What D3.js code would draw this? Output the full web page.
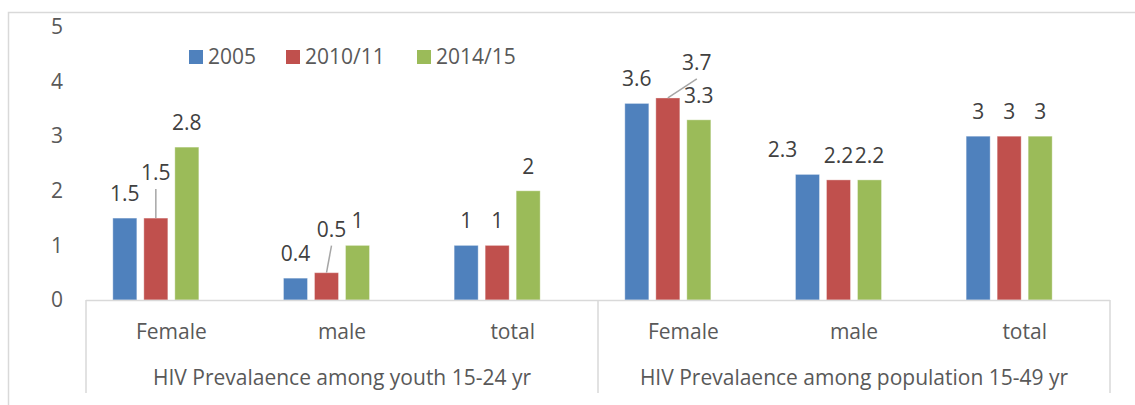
<!DOCTYPE html>
<html>
<head>
<meta charset="utf-8">
<script src="https://cdn.jsdelivr.net/npm/d3@7/dist/d3.min.js"></script>
<style>
  body { margin: 0; background: #fff; }
  text { font-family: "Open Sans", sans-serif; }
</style>
</head>
<body>
<div id="chart"></div>
<script>
// data
var groups = ["HIV Prevalaence among youth 15-24 yr", "HIV Prevalaence among population 15-49 yr"];
var subcats = ["Female", "male", "total"];
var seriesNames = ["2005", "2010/11", "2014/15"];
var v2005 = [1.5, 0.4, 1, 3.6, 2.3, 3];
var v2010 = [1.5, 0.5, 1, 3.7, 2.2, 3];
var v2014 = [2.8, 1, 2, 3.3, 2.2, 3];
var yTicks = [0, 1, 2, 3, 4, 5];

var colors = ["#4F81BD", "#C0504D", "#9BBB59"];
var width = 1135, height = 405;
var fs = 21;

// labels that excel moved by hand (cat index, series index, dx, dy, leader)
var moved = [
  {c: 0, s: 1, dx: 0, dy: -21, line: true},
  {c: 1, s: 1, dx: 5, dy: -19, line: true},
  {c: 3, s: 1, dx: 29, dy: -11, line: true},
  {c: 4, s: 0, dx: -25, dy: 0, line: false}
];

var cats = [];
groups.forEach(function(g, gi) {
  subcats.forEach(function(s) { cats.push({key: cats.length, name: s, group: gi}); });
});
var allSeries = [v2005, v2010, v2014];

var svg = d3.select('#chart').append('svg')
  .attr("width", width)
  .attr("height", height);

// outer chart border (cut at bottom/right like the picture)
svg.append("path")
  .attr("d", "M8.5," + height + "V12.5H" + width)
  .attr("fill", "none")
  .attr("stroke", "#d9d9d9")
  .attr("stroke-width", 1.5);

var x = d3.scaleBand()
  .domain(cats.map(function(d) { return d.key; }))
  .range([86, 1110]);
// 4 slots per category, the 4th one is empty in the source chart
var xs = d3.scaleBand()
  .domain([0, 1, 2, 3])
  .range([0, x.bandwidth()])
  .paddingInner(0.2258)
  .paddingOuter(0.865);
var y = d3.scaleLinear()
  .domain([0, 5])
  .range([300, 27]);

// y axis, labels only
var yAxis = svg.append("g")
  .attr("transform", "translate(86,0)")
  .call(d3.axisLeft(y).tickValues(yTicks).tickFormat(d3.format("d")).tickSize(0).tickPadding(23));
yAxis.select(".domain").remove();
yAxis.selectAll("text")
  .attr("font-size", fs)
  .attr("fill", "#595959")
  .attr("font-family", "Open Sans, sans-serif");

// bars
var bars = [];
allSeries.forEach(function(vals, si) {
  vals.forEach(function(v, ci) { bars.push({c: ci, s: si, v: v}); });
});

svg.selectAll('rect.bar')
  .data(bars)
  .enter()
  .append('rect')
  .attr("class", "bar")
  .attr("x", function(d) { return x(d.c) + xs(d.s); })
  .attr("y", function(d) { return y(d.v); })
  .attr("width", xs.bandwidth())
  .attr("height", function(d) { return y(0) - y(d.v); })
  .attr("fill", function(d) { return colors[d.s]; })
  .attr("stroke", "#fff")
  .attr("stroke-opacity", 0.35)
  .attr("stroke-width", 1);

// data labels
function lblPos(d) {
  var m = moved.find(function(k) { return k.c == d.c && k.s == d.s; });
  var cx = x(d.c) + xs(d.s) + xs.bandwidth() / 2;
  var cy = y(d.v) - 24;
  return {bx: cx, by: y(d.v), x: cx + (m ? m.dx : 0), y: cy + (m ? m.dy : 0), line: m ? m.line : false};
}

svg.selectAll('line.leader')
  .data(bars.filter(function(d) { return lblPos(d).line; }))
  .enter()
  .append('line')
  .attr("class", "leader")
  .attr("x1", function(d) { return lblPos(d).bx; })
  .attr("y1", function(d) { return lblPos(d).by; })
  .attr("x2", function(d) { return lblPos(d).x; })
  .attr("y2", function(d) { return lblPos(d).y + 16; })
  .attr("stroke", "#a6a6a6")
  .attr("stroke-width", 1.5);

svg.selectAll('text.lbl')
  .data(bars)
  .enter()
  .append('text')
  .attr("class", "lbl")
  .attr("x", function(d) { return lblPos(d).x; })
  .attr("y", function(d) { return lblPos(d).y + 7; })
  .attr("text-anchor", "middle")
  .attr("font-size", fs)
  .attr("fill", "#404040")
  .text(function(d) { return d.v; });

// x axis: line, category names, group names
svg.append("line")
  .attr("x1", 86).attr("x2", 1110)
  .attr("y1", 300.5).attr("y2", 300.5)
  .attr("stroke", "#d9d9d9").attr("stroke-width", 1.5);

var xAxis = svg.append("g")
  .attr("transform", "translate(0,300)")
  .call(d3.axisBottom(x).tickSize(0).tickPadding(0)
    .tickFormat(function(k) { return cats[k].name; }));
xAxis.select(".domain").remove();
xAxis.selectAll("text")
  .attr("y", 39)
  .attr("dy", 0)
  .attr("font-size", fs)
  .attr("fill", "#595959")
  .attr("font-family", "Open Sans, sans-serif");

var groupEdges = [0, 3, 6].map(function(i) { return i < cats.length ? x(i) : x.range()[1]; });
svg.selectAll("line.gsep")
  .data(groupEdges)
  .enter()
  .append("line")
  .attr("class", "gsep")
  .attr("x1", function(d) { return d; })
  .attr("x2", function(d) { return d; })
  .attr("y1", 300).attr("y2", 393)
  .attr("stroke", "#d9d9d9").attr("stroke-width", 1.5);

svg.selectAll("text.grp")
  .data(groups)
  .enter()
  .append("text")
  .attr("class", "grp")
  .attr("x", function(d, i) { return (groupEdges[i] + groupEdges[i + 1]) / 2; })
  .attr("y", 385)
  .attr("text-anchor", "middle")
  .attr("font-size", fs)
  .attr("fill", "#595959")
  .text(function(d) { return d; });

// legend
var legX = [189, 286, 417];
var leg = svg.selectAll("g.leg")
  .data(seriesNames)
  .enter()
  .append("g")
  .attr("class", "leg")
  .attr("transform", function(d, i) { return "translate(" + legX[i] + ",50)"; });
leg.append("rect")
  .attr("width", 14).attr("height", 14)
  .attr("fill", function(d, i) { return colors[i]; });
leg.append("text")
  .attr("x", 19).attr("y", 14)
  .attr("font-size", fs)
  .attr("fill", "#595959")
  .text(function(d) { return d; });
</script>
</body>
</html>
